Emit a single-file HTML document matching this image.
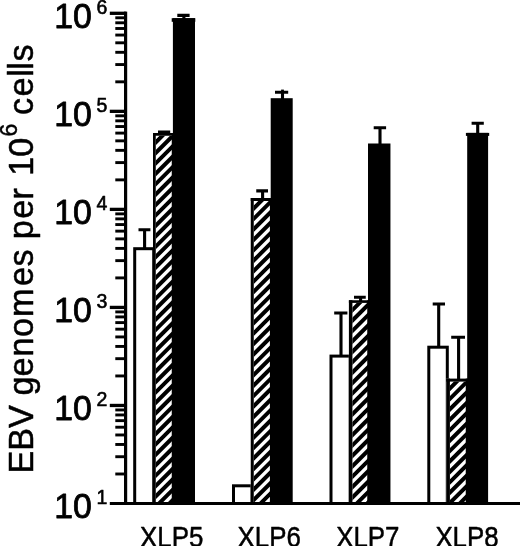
<!DOCTYPE html><html><head><meta charset="utf-8"><title>EBV genomes per 10^6 cells</title>
<style>html,body{margin:0;padding:0;background:#fff}svg{display:block}text{font-family:"Liberation Sans",Arial,Helvetica,sans-serif;fill:#000;stroke:#000;stroke-linejoin:round}</style></head><body>
<svg width="520" height="546" viewBox="0 0 520 546">
<rect width="520" height="546" fill="#fff"/>
<rect x="134.70" y="248.70" width="19.00" height="254.80" fill="#fff" stroke="#000" stroke-width="3.0"/>
<clipPath id="c0"><rect x="155.75" y="135.75" width="18.15" height="367.75"/></clipPath>
<rect x="153.00" y="133.00" width="20.90" height="370.50" fill="#fff"/>
<path clip-path="url(#c0)" d="M151.00 115.91L175.75 91.16M151.00 126.32L175.75 101.57M151.00 136.73L175.75 111.98M151.00 147.13L175.75 122.38M151.00 157.55L175.75 132.80M151.00 167.96L175.75 143.21M151.00 178.37L175.75 153.62M151.00 188.77L175.75 164.02M151.00 199.19L175.75 174.44M151.00 209.60L175.75 184.85M151.00 220.00L175.75 195.25M151.00 230.42L175.75 205.67M151.00 240.83L175.75 216.08M151.00 251.24L175.75 226.49M151.00 261.65L175.75 236.90M151.00 272.06L175.75 247.31M151.00 282.47L175.75 257.72M151.00 292.88L175.75 268.12M151.00 303.29L175.75 278.54M151.00 313.69L175.75 288.94M151.00 324.11L175.75 299.36M151.00 334.52L175.75 309.77M151.00 344.93L175.75 320.18M151.00 355.34L175.75 330.59M151.00 365.75L175.75 341.00M151.00 376.15L175.75 351.40M151.00 386.57L175.75 361.82M151.00 396.98L175.75 372.23M151.00 407.38L175.75 382.63M151.00 417.80L175.75 393.05M151.00 428.21L175.75 403.46M151.00 438.62L175.75 413.87M151.00 449.02L175.75 424.27M151.00 459.44L175.75 434.69M151.00 469.85L175.75 445.10M151.00 480.25L175.75 455.50M151.00 490.66L175.75 465.91M151.00 501.08L175.75 476.33M151.00 511.49L175.75 486.74M151.00 521.89L175.75 497.14M151.00 532.31L175.75 507.56M151.00 542.72L175.75 517.97" stroke="#000" stroke-width="4.0" fill="none"/>
<rect x="153.00" y="133.00" width="2.75" height="370.50" fill="#000"/>
<rect x="153.00" y="133.00" width="20.90" height="2.75" fill="#000"/>
<rect x="171.75" y="133.00" width="2.15" height="370.50" fill="#000"/>
<rect x="172.90" y="18.20" width="22.10" height="485.30" fill="#000"/>
<rect x="233.50" y="485.80" width="18.50" height="17.70" fill="#fff" stroke="#000" stroke-width="3.0"/>
<clipPath id="c1"><rect x="253.75" y="201.00" width="17.95" height="302.50"/></clipPath>
<rect x="250.75" y="198.00" width="20.95" height="305.50" fill="#fff"/>
<path clip-path="url(#c1)" d="M248.75 182.13L273.90 156.98M248.75 192.54L273.90 167.39M248.75 202.95L273.90 177.80M248.75 213.36L273.90 188.21M248.75 223.77L273.90 198.62M248.75 234.18L273.90 209.03M248.75 244.59L273.90 219.44M248.75 255.00L273.90 229.85M248.75 265.41L273.90 240.26M248.75 275.82L273.90 250.67M248.75 286.23L273.90 261.08M248.75 296.64L273.90 271.49M248.75 307.05L273.90 281.90M248.75 317.46L273.90 292.31M248.75 327.87L273.90 302.72M248.75 338.28L273.90 313.13M248.75 348.69L273.90 323.54M248.75 359.10L273.90 333.95M248.75 369.51L273.90 344.36M248.75 379.92L273.90 354.77M248.75 390.33L273.90 365.18M248.75 400.74L273.90 375.59M248.75 411.15L273.90 386.00M248.75 421.56L273.90 396.41M248.75 431.97L273.90 406.82M248.75 442.38L273.90 417.23M248.75 452.79L273.90 427.64M248.75 463.20L273.90 438.05M248.75 473.61L273.90 448.46M248.75 484.02L273.90 458.87M248.75 494.43L273.90 469.28M248.75 504.84L273.90 479.69M248.75 515.25L273.90 490.10M248.75 525.66L273.90 500.51M248.75 536.07L273.90 510.92M248.75 546.48L273.90 521.33" stroke="#000" stroke-width="4.0" fill="none"/>
<rect x="250.75" y="198.00" width="3.00" height="305.50" fill="#000"/>
<rect x="250.75" y="198.00" width="20.95" height="3.00" fill="#000"/>
<rect x="269.90" y="198.00" width="1.80" height="305.50" fill="#000"/>
<rect x="270.70" y="98.20" width="22.00" height="405.30" fill="#000"/>
<rect x="331.00" y="356.10" width="19.20" height="147.40" fill="#fff" stroke="#000" stroke-width="3.0"/>
<clipPath id="c2"><rect x="352.40" y="302.90" width="16.60" height="200.60"/></clipPath>
<rect x="348.90" y="300.25" width="20.10" height="203.25" fill="#fff"/>
<path clip-path="url(#c2)" d="M346.90 284.33L371.25 259.98M346.90 294.74L371.25 270.39M346.90 305.15L371.25 280.80M346.90 315.56L371.25 291.21M346.90 325.97L371.25 301.62M346.90 336.38L371.25 312.03M346.90 346.79L371.25 322.44M346.90 357.20L371.25 332.85M346.90 367.61L371.25 343.26M346.90 378.02L371.25 353.67M346.90 388.43L371.25 364.08M346.90 398.84L371.25 374.49M346.90 409.25L371.25 384.90M346.90 419.66L371.25 395.31M346.90 430.07L371.25 405.72M346.90 440.48L371.25 416.13M346.90 450.89L371.25 426.54M346.90 461.30L371.25 436.95M346.90 471.71L371.25 447.36M346.90 482.12L371.25 457.77M346.90 492.53L371.25 468.18M346.90 502.94L371.25 478.59M346.90 513.35L371.25 489.00M346.90 523.76L371.25 499.41M346.90 534.17L371.25 509.82M346.90 544.58L371.25 520.23" stroke="#000" stroke-width="4.0" fill="none"/>
<rect x="348.90" y="300.25" width="3.50" height="203.25" fill="#000"/>
<rect x="348.90" y="300.25" width="20.10" height="2.65" fill="#000"/>
<rect x="367.25" y="300.25" width="1.75" height="203.25" fill="#000"/>
<rect x="368.00" y="143.50" width="22.45" height="360.00" fill="#000"/>
<rect x="428.80" y="347.20" width="18.50" height="156.30" fill="#fff" stroke="#000" stroke-width="3.0"/>
<clipPath id="c3"><rect x="449.90" y="381.60" width="18.30" height="121.90"/></clipPath>
<rect x="446.25" y="378.60" width="21.95" height="124.90" fill="#fff"/>
<path clip-path="url(#c3)" d="M444.25 362.85L469.75 337.35M444.25 373.26L469.75 347.76M444.25 383.67L469.75 358.17M444.25 394.08L469.75 368.58M444.25 404.49L469.75 378.99M444.25 414.90L469.75 389.40M444.25 425.31L469.75 399.81M444.25 435.72L469.75 410.22M444.25 446.13L469.75 420.63M444.25 456.54L469.75 431.04M444.25 466.95L469.75 441.45M444.25 477.36L469.75 451.86M444.25 487.77L469.75 462.27M444.25 498.18L469.75 472.68M444.25 508.59L469.75 483.09M444.25 519.00L469.75 493.50M444.25 529.41L469.75 503.91M444.25 539.82L469.75 514.32" stroke="#000" stroke-width="4.0" fill="none"/>
<rect x="446.25" y="378.60" width="3.65" height="124.90" fill="#000"/>
<rect x="446.25" y="378.60" width="21.95" height="3.00" fill="#000"/>
<rect x="465.75" y="378.60" width="2.45" height="124.90" fill="#000"/>
<rect x="467.20" y="132.90" width="20.90" height="370.60" fill="#000"/>
<path d="M138.5 229.8H150.4M144.6 229.8V248" stroke="#000" stroke-width="3.1" fill="none"/>
<path d="M158 132.0H170.2M164.2 132.0V134" stroke="#000" stroke-width="3.1" fill="none"/>
<path d="M177.3 15.4H189.6M183.9 15.4V19" stroke="#000" stroke-width="3.1" fill="none"/>
<path d="M256.25 190.9H268M262.6 190.9V199" stroke="#000" stroke-width="3.1" fill="none"/>
<path d="M275 92.3H288.2M282.5 92.3V99" stroke="#000" stroke-width="3.1" fill="none"/>
<path d="M334.2 313H347.4M341 313V355" stroke="#000" stroke-width="3.1" fill="none"/>
<path d="M354 297.3H365.75M360.6 297.3V301" stroke="#000" stroke-width="3.1" fill="none"/>
<path d="M373.7 127.8H386.1M380 127.8V144" stroke="#000" stroke-width="3.1" fill="none"/>
<path d="M432.7 304H445M438.7 304V347" stroke="#000" stroke-width="3.1" fill="none"/>
<path d="M451.2 337.2H465M458.6 337.2V380" stroke="#000" stroke-width="3.1" fill="none"/>
<path d="M471.6 123.2H483.8M477.7 123.2V134" stroke="#000" stroke-width="3.1" fill="none"/>
<rect x="281.1" y="89.6" width="2.8" height="2" fill="#000"/>
<rect x="171.7" y="18.2" width="23.6" height="3.6" fill="#000"/>
<rect x="465.9" y="132.9" width="23.3" height="3" fill="#000"/>
<rect x="124" y="11.6" width="3.2" height="493.4" fill="#000"/>
<rect x="109.8" y="502" width="410.2" height="3" fill="#000"/>
<rect x="115.3" y="472.54" width="10" height="2.9" fill="#000"/>
<rect x="115.3" y="455.27" width="10" height="2.9" fill="#000"/>
<rect x="115.3" y="443.02" width="10" height="2.9" fill="#000"/>
<rect x="115.3" y="433.52" width="10" height="2.9" fill="#000"/>
<rect x="115.3" y="425.76" width="10" height="2.9" fill="#000"/>
<rect x="115.3" y="419.20" width="10" height="2.9" fill="#000"/>
<rect x="115.3" y="413.51" width="10" height="2.9" fill="#000"/>
<rect x="115.3" y="408.50" width="10" height="2.9" fill="#000"/>
<rect x="109.8" y="403.81" width="16" height="3.3" fill="#000"/>
<rect x="115.3" y="374.50" width="10" height="2.9" fill="#000"/>
<rect x="115.3" y="357.23" width="10" height="2.9" fill="#000"/>
<rect x="115.3" y="344.98" width="10" height="2.9" fill="#000"/>
<rect x="115.3" y="335.48" width="10" height="2.9" fill="#000"/>
<rect x="115.3" y="327.72" width="10" height="2.9" fill="#000"/>
<rect x="115.3" y="321.16" width="10" height="2.9" fill="#000"/>
<rect x="115.3" y="315.47" width="10" height="2.9" fill="#000"/>
<rect x="115.3" y="310.46" width="10" height="2.9" fill="#000"/>
<rect x="109.8" y="305.77" width="16" height="3.3" fill="#000"/>
<rect x="115.3" y="276.46" width="10" height="2.9" fill="#000"/>
<rect x="115.3" y="259.19" width="10" height="2.9" fill="#000"/>
<rect x="115.3" y="246.94" width="10" height="2.9" fill="#000"/>
<rect x="115.3" y="237.44" width="10" height="2.9" fill="#000"/>
<rect x="115.3" y="229.68" width="10" height="2.9" fill="#000"/>
<rect x="115.3" y="223.12" width="10" height="2.9" fill="#000"/>
<rect x="115.3" y="217.43" width="10" height="2.9" fill="#000"/>
<rect x="115.3" y="212.42" width="10" height="2.9" fill="#000"/>
<rect x="109.8" y="207.73" width="16" height="3.3" fill="#000"/>
<rect x="115.3" y="178.42" width="10" height="2.9" fill="#000"/>
<rect x="115.3" y="161.15" width="10" height="2.9" fill="#000"/>
<rect x="115.3" y="148.90" width="10" height="2.9" fill="#000"/>
<rect x="115.3" y="139.40" width="10" height="2.9" fill="#000"/>
<rect x="115.3" y="131.64" width="10" height="2.9" fill="#000"/>
<rect x="115.3" y="125.08" width="10" height="2.9" fill="#000"/>
<rect x="115.3" y="119.39" width="10" height="2.9" fill="#000"/>
<rect x="115.3" y="114.38" width="10" height="2.9" fill="#000"/>
<rect x="109.8" y="109.69" width="16" height="3.3" fill="#000"/>
<rect x="115.3" y="80.38" width="10" height="2.9" fill="#000"/>
<rect x="115.3" y="63.11" width="10" height="2.9" fill="#000"/>
<rect x="115.3" y="50.86" width="10" height="2.9" fill="#000"/>
<rect x="115.3" y="41.36" width="10" height="2.9" fill="#000"/>
<rect x="115.3" y="33.60" width="10" height="2.9" fill="#000"/>
<rect x="115.3" y="27.04" width="10" height="2.9" fill="#000"/>
<rect x="115.3" y="21.35" width="10" height="2.9" fill="#000"/>
<rect x="115.3" y="16.34" width="10" height="2.9" fill="#000"/>
<rect x="109.8" y="11.65" width="16" height="3.3" fill="#000"/>
<text x="54.3" y="517.80" font-size="34.2" stroke-width="0.8" textLength="37.6" lengthAdjust="spacingAndGlyphs">10</text>
<text x="96.6" y="503.70" font-size="19.5" stroke-width="0.6">1</text>
<text x="54.3" y="419.76" font-size="34.2" stroke-width="0.8" textLength="37.6" lengthAdjust="spacingAndGlyphs">10</text>
<text x="96.6" y="405.66" font-size="19.5" stroke-width="0.6">2</text>
<text x="54.3" y="321.72" font-size="34.2" stroke-width="0.8" textLength="37.6" lengthAdjust="spacingAndGlyphs">10</text>
<text x="96.6" y="307.62" font-size="19.5" stroke-width="0.6">3</text>
<text x="54.3" y="223.68" font-size="34.2" stroke-width="0.8" textLength="37.6" lengthAdjust="spacingAndGlyphs">10</text>
<text x="96.6" y="209.58" font-size="19.5" stroke-width="0.6">4</text>
<text x="54.3" y="125.64" font-size="34.2" stroke-width="0.8" textLength="37.6" lengthAdjust="spacingAndGlyphs">10</text>
<text x="96.6" y="111.54" font-size="19.5" stroke-width="0.6">5</text>
<text x="54.3" y="27.60" font-size="34.2" stroke-width="0.8" textLength="37.6" lengthAdjust="spacingAndGlyphs">10</text>
<text x="96.6" y="13.50" font-size="19.5" stroke-width="0.6">6</text>
<text x="140.1" y="546.6" font-size="29.5" stroke-width="0.5" textLength="63.2" lengthAdjust="spacingAndGlyphs">XLP5</text>
<text x="237.6" y="546.6" font-size="29.5" stroke-width="0.5" textLength="63.2" lengthAdjust="spacingAndGlyphs">XLP6</text>
<text x="336.2" y="546.6" font-size="29.5" stroke-width="0.5" textLength="63.2" lengthAdjust="spacingAndGlyphs">XLP7</text>
<text x="435.4" y="546.6" font-size="29.5" stroke-width="0.5" textLength="63.2" lengthAdjust="spacingAndGlyphs">XLP8</text>
<g transform="translate(33,471) rotate(-90)"><text x="-2.5 20.3 43.1 65.9 75.4 94.4 114.4 133.9 154.0 184.9 204.4 221.8 231.7 252.2 271.6 284.0 295.3 314.2 334.6 346.1 356.0 374.4 394.3 401.3 409.5" y="0" font-size="34.2" stroke-width="0.5">EBV genomes per 10<tspan font-size="23" dy="-15.6">6</tspan><tspan dy="15.6"> cells</tspan></text></g>
</svg></body></html>
